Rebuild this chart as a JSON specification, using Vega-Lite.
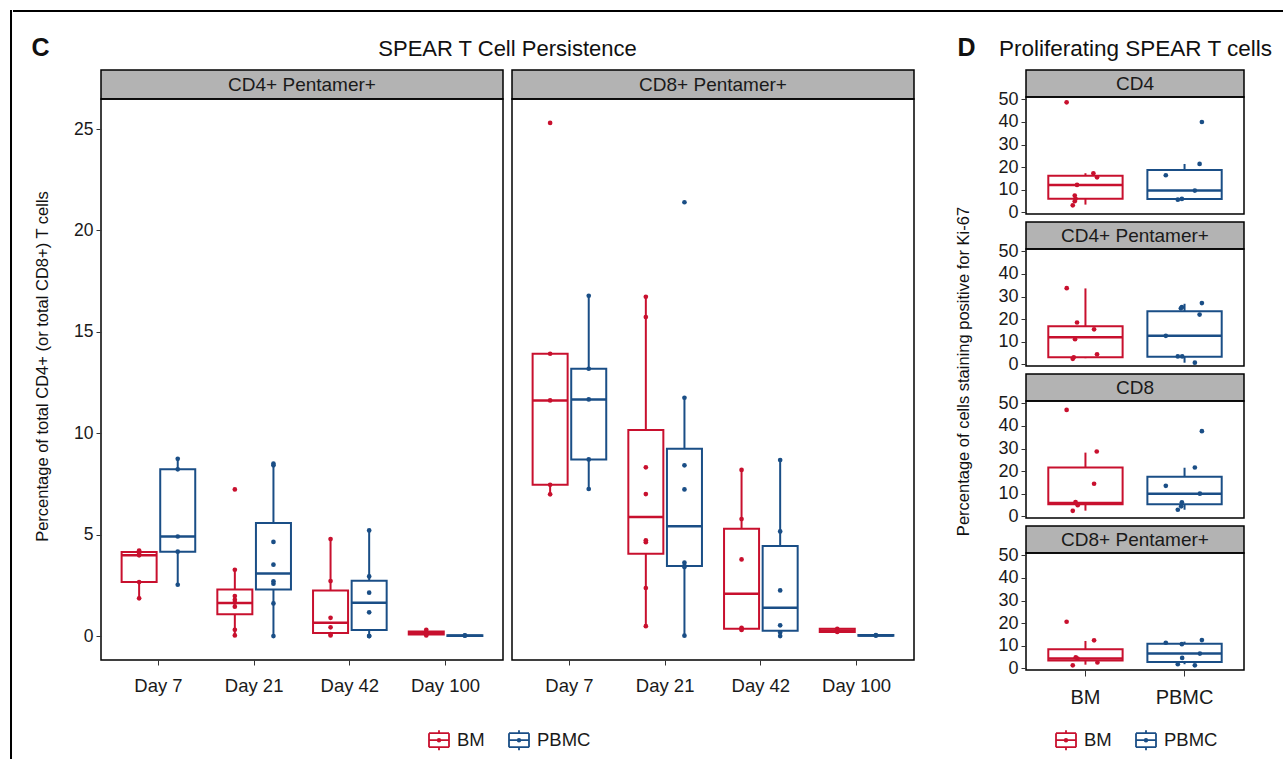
{
  "$schema": "https://vega.github.io/schema/vega-lite/v6.json",
  "background": "white",
  "padding": {"left": 10, "top": 10, "right": 0, "bottom": 0},
  "autosize": {"type": "pad"},
  "config": {
    "font": "Liberation Sans",
    "view": {"stroke": "black", "strokeWidth": 1.5},
    "axis": {"grid": false, "domain": false, "tickColor": "#333333", "tickWidth": 1, "tickSize": 5, "labelColor": "#1a1a1a", "titleColor": "#111111", "titleFontWeight": "normal", "labelFont": "Liberation Sans", "labelOverlap": false},
    "legend": {"padding": 0, "labelFontSize": 18.5, "labelColor": "#1a1a1a", "labelOffset": 7, "columnPadding": 20, "symbolSize": 400, "symbolStrokeWidth": 1.8, "symbolFillColor": "transparent", "symbolType": "M-1,-0.7H1M1,-0.7V0.7M1,0.7H-1M-1,0.7V-0.7M-1,0H1M0,-0.7V-1M0,0.7V1M0.13,0A0.13,0.13 0 1 1 -0.13,0A0.13,0.13 0 1 1 0.13,0"},
    "text": {"color": "#1a1a1a"}
  },
  "datasets": {
    "none": [],
    "boxC": [
      {"p":"CD4+ Pentamer+","d":"Day 7","g":"BM","lo":1.86,"q1":2.66,"med":3.98,"q3":4.14,"hi":4.2},
      {"p":"CD4+ Pentamer+","d":"Day 7","g":"PBMC","lo":2.53,"q1":4.16,"med":4.91,"q3":8.22,"hi":8.74},
      {"p":"CD4+ Pentamer+","d":"Day 21","g":"BM","lo":0.03,"q1":1.08,"med":1.63,"q3":2.30,"hi":3.27},
      {"p":"CD4+ Pentamer+","d":"Day 21","g":"PBMC","lo":0.0,"q1":2.30,"med":3.09,"q3":5.57,"hi":8.50},
      {"p":"CD4+ Pentamer+","d":"Day 42","g":"BM","lo":0.03,"q1":0.15,"med":0.66,"q3":2.25,"hi":4.78},
      {"p":"CD4+ Pentamer+","d":"Day 42","g":"PBMC","lo":0.0,"q1":0.30,"med":1.64,"q3":2.73,"hi":5.21},
      {"p":"CD4+ Pentamer+","d":"Day 100","g":"BM","lo":0.03,"q1":0.08,"med":0.14,"q3":0.22,"hi":0.31},
      {"p":"CD4+ Pentamer+","d":"Day 100","g":"PBMC","lo":0.0,"q1":0.0,"med":0.02,"q3":0.04,"hi":0.05},
      {"p":"CD8+ Pentamer+","d":"Day 7","g":"BM","lo":6.99,"q1":7.46,"med":11.62,"q3":13.92,"hi":13.92},
      {"p":"CD8+ Pentamer+","d":"Day 7","g":"PBMC","lo":7.25,"q1":8.71,"med":11.67,"q3":13.18,"hi":16.78},
      {"p":"CD8+ Pentamer+","d":"Day 21","g":"BM","lo":0.49,"q1":4.06,"med":5.87,"q3":10.16,"hi":16.73},
      {"p":"CD8+ Pentamer+","d":"Day 21","g":"PBMC","lo":0.02,"q1":3.45,"med":5.42,"q3":9.24,"hi":11.75},
      {"p":"CD8+ Pentamer+","d":"Day 42","g":"BM","lo":0.30,"q1":0.36,"med":2.09,"q3":5.29,"hi":8.19},
      {"p":"CD8+ Pentamer+","d":"Day 42","g":"PBMC","lo":0.0,"q1":0.26,"med":1.40,"q3":4.44,"hi":8.68},
      {"p":"CD8+ Pentamer+","d":"Day 100","g":"BM","lo":0.18,"q1":0.20,"med":0.28,"q3":0.36,"hi":0.38},
      {"p":"CD8+ Pentamer+","d":"Day 100","g":"PBMC","lo":0.0,"q1":0.01,"med":0.03,"q3":0.05,"hi":0.06}
    ],
    "ptC": [
      {"p":"CD4+ Pentamer+","d":"Day 7","g":"BM","v":4.22},{"p":"CD4+ Pentamer+","d":"Day 7","g":"BM","v":4.05},{"p":"CD4+ Pentamer+","d":"Day 7","g":"BM","v":3.98},{"p":"CD4+ Pentamer+","d":"Day 7","g":"BM","v":2.66},{"p":"CD4+ Pentamer+","d":"Day 7","g":"BM","v":1.86},
      {"p":"CD4+ Pentamer+","d":"Day 7","g":"PBMC","v":8.74},{"p":"CD4+ Pentamer+","d":"Day 7","g":"PBMC","v":8.22},{"p":"CD4+ Pentamer+","d":"Day 7","g":"PBMC","v":4.91},{"p":"CD4+ Pentamer+","d":"Day 7","g":"PBMC","v":4.16},{"p":"CD4+ Pentamer+","d":"Day 7","g":"PBMC","v":2.53},
      {"p":"CD4+ Pentamer+","d":"Day 21","g":"BM","v":7.23},{"p":"CD4+ Pentamer+","d":"Day 21","g":"BM","v":3.27},{"p":"CD4+ Pentamer+","d":"Day 21","g":"BM","v":1.97},{"p":"CD4+ Pentamer+","d":"Day 21","g":"BM","v":1.79},{"p":"CD4+ Pentamer+","d":"Day 21","g":"BM","v":1.65},{"p":"CD4+ Pentamer+","d":"Day 21","g":"BM","v":1.45},{"p":"CD4+ Pentamer+","d":"Day 21","g":"BM","v":0.31},{"p":"CD4+ Pentamer+","d":"Day 21","g":"BM","v":0.03},
      {"p":"CD4+ Pentamer+","d":"Day 21","g":"PBMC","v":8.50},{"p":"CD4+ Pentamer+","d":"Day 21","g":"PBMC","v":8.42},{"p":"CD4+ Pentamer+","d":"Day 21","g":"PBMC","v":4.64},{"p":"CD4+ Pentamer+","d":"Day 21","g":"PBMC","v":3.52},{"p":"CD4+ Pentamer+","d":"Day 21","g":"PBMC","v":2.70},{"p":"CD4+ Pentamer+","d":"Day 21","g":"PBMC","v":2.58},{"p":"CD4+ Pentamer+","d":"Day 21","g":"PBMC","v":1.61},{"p":"CD4+ Pentamer+","d":"Day 21","g":"PBMC","v":0.0},
      {"p":"CD4+ Pentamer+","d":"Day 42","g":"BM","v":4.78},{"p":"CD4+ Pentamer+","d":"Day 42","g":"BM","v":2.71},{"p":"CD4+ Pentamer+","d":"Day 42","g":"BM","v":0.90},{"p":"CD4+ Pentamer+","d":"Day 42","g":"BM","v":0.43},{"p":"CD4+ Pentamer+","d":"Day 42","g":"BM","v":0.10},{"p":"CD4+ Pentamer+","d":"Day 42","g":"BM","v":0.03},
      {"p":"CD4+ Pentamer+","d":"Day 42","g":"PBMC","v":5.21},{"p":"CD4+ Pentamer+","d":"Day 42","g":"PBMC","v":2.94},{"p":"CD4+ Pentamer+","d":"Day 42","g":"PBMC","v":2.14},{"p":"CD4+ Pentamer+","d":"Day 42","g":"PBMC","v":1.17},{"p":"CD4+ Pentamer+","d":"Day 42","g":"PBMC","v":0.0},{"p":"CD4+ Pentamer+","d":"Day 42","g":"PBMC","v":0.0},
      {"p":"CD4+ Pentamer+","d":"Day 100","g":"BM","v":0.31},{"p":"CD4+ Pentamer+","d":"Day 100","g":"BM","v":0.2},{"p":"CD4+ Pentamer+","d":"Day 100","g":"BM","v":0.1},{"p":"CD4+ Pentamer+","d":"Day 100","g":"BM","v":0.03},
      {"p":"CD4+ Pentamer+","d":"Day 100","g":"PBMC","v":0.02},{"p":"CD4+ Pentamer+","d":"Day 100","g":"PBMC","v":0.03},
      {"p":"CD8+ Pentamer+","d":"Day 7","g":"BM","v":25.3},{"p":"CD8+ Pentamer+","d":"Day 7","g":"BM","v":13.92},{"p":"CD8+ Pentamer+","d":"Day 7","g":"BM","v":11.62},{"p":"CD8+ Pentamer+","d":"Day 7","g":"BM","v":7.46},{"p":"CD8+ Pentamer+","d":"Day 7","g":"BM","v":6.99},
      {"p":"CD8+ Pentamer+","d":"Day 7","g":"PBMC","v":16.78},{"p":"CD8+ Pentamer+","d":"Day 7","g":"PBMC","v":13.18},{"p":"CD8+ Pentamer+","d":"Day 7","g":"PBMC","v":11.67},{"p":"CD8+ Pentamer+","d":"Day 7","g":"PBMC","v":8.71},{"p":"CD8+ Pentamer+","d":"Day 7","g":"PBMC","v":7.25},
      {"p":"CD8+ Pentamer+","d":"Day 21","g":"BM","v":16.73},{"p":"CD8+ Pentamer+","d":"Day 21","g":"BM","v":15.73},{"p":"CD8+ Pentamer+","d":"Day 21","g":"BM","v":8.32},{"p":"CD8+ Pentamer+","d":"Day 21","g":"BM","v":7.0},{"p":"CD8+ Pentamer+","d":"Day 21","g":"BM","v":4.72},{"p":"CD8+ Pentamer+","d":"Day 21","g":"BM","v":4.63},{"p":"CD8+ Pentamer+","d":"Day 21","g":"BM","v":2.37},{"p":"CD8+ Pentamer+","d":"Day 21","g":"BM","v":0.49},
      {"p":"CD8+ Pentamer+","d":"Day 21","g":"PBMC","v":21.39},{"p":"CD8+ Pentamer+","d":"Day 21","g":"PBMC","v":11.75},{"p":"CD8+ Pentamer+","d":"Day 21","g":"PBMC","v":8.42},{"p":"CD8+ Pentamer+","d":"Day 21","g":"PBMC","v":7.23},{"p":"CD8+ Pentamer+","d":"Day 21","g":"PBMC","v":3.62},{"p":"CD8+ Pentamer+","d":"Day 21","g":"PBMC","v":3.45},{"p":"CD8+ Pentamer+","d":"Day 21","g":"PBMC","v":3.40},{"p":"CD8+ Pentamer+","d":"Day 21","g":"PBMC","v":0.02},
      {"p":"CD8+ Pentamer+","d":"Day 42","g":"BM","v":8.19},{"p":"CD8+ Pentamer+","d":"Day 42","g":"BM","v":5.77},{"p":"CD8+ Pentamer+","d":"Day 42","g":"BM","v":3.78},{"p":"CD8+ Pentamer+","d":"Day 42","g":"BM","v":0.40},{"p":"CD8+ Pentamer+","d":"Day 42","g":"BM","v":0.35},{"p":"CD8+ Pentamer+","d":"Day 42","g":"BM","v":0.30},
      {"p":"CD8+ Pentamer+","d":"Day 42","g":"PBMC","v":8.68},{"p":"CD8+ Pentamer+","d":"Day 42","g":"PBMC","v":5.16},{"p":"CD8+ Pentamer+","d":"Day 42","g":"PBMC","v":2.25},{"p":"CD8+ Pentamer+","d":"Day 42","g":"PBMC","v":0.53},{"p":"CD8+ Pentamer+","d":"Day 42","g":"PBMC","v":0.18},{"p":"CD8+ Pentamer+","d":"Day 42","g":"PBMC","v":0.0},
      {"p":"CD8+ Pentamer+","d":"Day 100","g":"BM","v":0.36},{"p":"CD8+ Pentamer+","d":"Day 100","g":"BM","v":0.30},{"p":"CD8+ Pentamer+","d":"Day 100","g":"BM","v":0.20},
      {"p":"CD8+ Pentamer+","d":"Day 100","g":"PBMC","v":0.02},{"p":"CD8+ Pentamer+","d":"Day 100","g":"PBMC","v":0.05}
    ],
    "boxD": [
      {"p":"CD4","g":"BM","lo":3.4,"q1":6.0,"med":12.1,"q3":16.2,"hi":17.3},
      {"p":"CD4","g":"PBMC","lo":5.6,"q1":5.9,"med":9.6,"q3":18.7,"hi":21.4},
      {"p":"CD4+ Pentamer+","g":"BM","lo":2.7,"q1":3.1,"med":12.0,"q3":16.9,"hi":33.6},
      {"p":"CD4+ Pentamer+","g":"PBMC","lo":0.7,"q1":3.3,"med":12.6,"q3":23.5,"hi":26.8},
      {"p":"CD8","g":"BM","lo":2.5,"q1":5.3,"med":5.9,"q3":21.6,"hi":28.2},
      {"p":"CD8","g":"PBMC","lo":2.9,"q1":5.3,"med":10.0,"q3":17.5,"hi":21.5},
      {"p":"CD8+ Pentamer+","g":"BM","lo":1.6,"q1":3.4,"med":4.3,"q3":8.4,"hi":12.1},
      {"p":"CD8+ Pentamer+","g":"PBMC","lo":1.8,"q1":2.8,"med":6.5,"q3":10.9,"hi":11.8}
    ],
    "ptD": [
      {"p":"CD4","g":"BM","v":48.7,"j":-0.19},{"p":"CD4","g":"BM","v":17.3,"j":0.08},{"p":"CD4","g":"BM","v":15.5,"j":0.117},{"p":"CD4","g":"BM","v":12.1,"j":-0.085},{"p":"CD4","g":"BM","v":7.4,"j":-0.108},{"p":"CD4","g":"BM","v":6.0,"j":-0.10},{"p":"CD4","g":"BM","v":4.9,"j":-0.108},{"p":"CD4","g":"BM","v":3.1,"j":-0.128},
      {"p":"CD4","g":"PBMC","v":40.0,"j":0.175},{"p":"CD4","g":"PBMC","v":21.4,"j":0.152},{"p":"CD4","g":"PBMC","v":16.4,"j":-0.189},{"p":"CD4","g":"PBMC","v":9.6,"j":0.104},{"p":"CD4","g":"PBMC","v":5.6,"j":-0.068},{"p":"CD4","g":"PBMC","v":5.9,"j":-0.027},
      {"p":"CD4+ Pentamer+","g":"BM","v":33.7,"j":-0.189},{"p":"CD4+ Pentamer+","g":"BM","v":18.5,"j":-0.085},{"p":"CD4+ Pentamer+","g":"BM","v":15.5,"j":0.087},{"p":"CD4+ Pentamer+","g":"BM","v":11.1,"j":-0.105},{"p":"CD4+ Pentamer+","g":"BM","v":4.4,"j":0.117},{"p":"CD4+ Pentamer+","g":"BM","v":3.1,"j":-0.118},{"p":"CD4+ Pentamer+","g":"BM","v":2.4,"j":-0.128},
      {"p":"CD4+ Pentamer+","g":"PBMC","v":27.1,"j":0.175},{"p":"CD4+ Pentamer+","g":"PBMC","v":25.3,"j":-0.027},{"p":"CD4+ Pentamer+","g":"PBMC","v":24.8,"j":-0.037},{"p":"CD4+ Pentamer+","g":"PBMC","v":22.0,"j":0.152},{"p":"CD4+ Pentamer+","g":"PBMC","v":12.6,"j":-0.189},{"p":"CD4+ Pentamer+","g":"PBMC","v":3.5,"j":-0.068},{"p":"CD4+ Pentamer+","g":"PBMC","v":3.5,"j":-0.024},{"p":"CD4+ Pentamer+","g":"PBMC","v":0.7,"j":0.104},
      {"p":"CD8","g":"BM","v":47.1,"j":-0.19},{"p":"CD8","g":"BM","v":28.7,"j":0.114},{"p":"CD8","g":"BM","v":14.4,"j":0.087},{"p":"CD8","g":"BM","v":6.3,"j":-0.10},{"p":"CD8","g":"BM","v":4.9,"j":-0.078},{"p":"CD8","g":"BM","v":2.4,"j":-0.128},
      {"p":"CD8","g":"PBMC","v":37.7,"j":0.175},{"p":"CD8","g":"PBMC","v":21.6,"j":0.104},{"p":"CD8","g":"PBMC","v":13.5,"j":-0.189},{"p":"CD8","g":"PBMC","v":10.0,"j":0.155},{"p":"CD8","g":"PBMC","v":6.2,"j":-0.027},{"p":"CD8","g":"PBMC","v":4.4,"j":-0.034},{"p":"CD8","g":"PBMC","v":2.9,"j":-0.068},
      {"p":"CD8+ Pentamer+","g":"BM","v":20.6,"j":-0.19},{"p":"CD8+ Pentamer+","g":"BM","v":12.4,"j":0.087},{"p":"CD8+ Pentamer+","g":"BM","v":4.9,"j":-0.098},{"p":"CD8+ Pentamer+","g":"BM","v":4.3,"j":-0.08},{"p":"CD8+ Pentamer+","g":"BM","v":2.6,"j":0.121},{"p":"CD8+ Pentamer+","g":"BM","v":1.3,"j":-0.128},
      {"p":"CD8+ Pentamer+","g":"PBMC","v":12.5,"j":0.175},{"p":"CD8+ Pentamer+","g":"PBMC","v":11.3,"j":-0.189},{"p":"CD8+ Pentamer+","g":"PBMC","v":10.7,"j":-0.027},{"p":"CD8+ Pentamer+","g":"PBMC","v":6.5,"j":0.155},{"p":"CD8+ Pentamer+","g":"PBMC","v":4.6,"j":-0.024},{"p":"CD8+ Pentamer+","g":"PBMC","v":1.8,"j":-0.068},{"p":"CD8+ Pentamer+","g":"PBMC","v":1.3,"j":0.104}
    ]
  },
  "spacing": 0,
  "hconcat": [
    {"width": 0.01, "height": 747, "view": {"stroke": "black", "strokeWidth": 2}, "data": {"name": "none"}, "mark": "point", "encoding": {}},
    {
      "spacing": 21,
      "vconcat": [
        {"width": 1268, "height": 0.01, "view": {"stroke": "black", "strokeWidth": 2}, "data": {"name": "none"}, "mark": "point", "encoding": {}},
        {
          "spacing": 15,
          "hconcat": [
            {"width": 0.01, "height": 0.01, "view": {"stroke": "transparent", "strokeWidth": 0.1}, "data": {"name": "none"}, "mark": "point", "encoding": {}},
            {
              "resolve": {"legend": {"color": "independent"}},
              "spacing": 39,
              "hconcat": [
                {
                  "columns": 2,
                  "bounds": "flush",
                  "spacing": {"row": 0, "column": 9},
                  "resolve": {"scale": {"xOffset": "independent"}},
                  "concat": [
                    {
                      "width": 402, "height": 29,
                      "data": {"values": [{"panel": "CD4+ Pentamer+"}]},
                      "view": {"fill": "#b3b3b3", "stroke": "black", "strokeWidth": 1.5},
                      "mark": {"type": "text", "fontSize": 19},
                      "encoding": {
                        "text": {"field": "panel"},
                        "x": {"field": "panel", "type": "nominal", "axis": {"orient": "top", "labels": false, "ticks": false, "domain": false, "title": "SPEAR T Cell Persistence", "titleFontSize": 22, "titleX": 406, "titleY": -15, "titleAlign": "center", "titleBaseline": "alphabetic", "titleAngle": 0}},
                        "y": {"field": "panel", "type": "nominal", "axis": {"labels": false, "ticks": false, "domain": false, "title": "C", "titleFontSize": 25, "titleFontWeight": "bold", "titleX": -70, "titleY": -15, "titleAlign": "left", "titleBaseline": "alphabetic", "titleAngle": 0}}
                      }
                    },
                    {
                      "width": 402, "height": 29,
                      "data": {"values": [{"panel": "CD8+ Pentamer+"}]},
                      "view": {"fill": "#b3b3b3", "stroke": "black", "strokeWidth": 1.5},
                      "mark": {"type": "text", "fontSize": 19},
                      "encoding": {"text": {"field": "panel"}}
                    },
                    {
                      "width": 402, "height": 561,
                      "encoding": {
                        "x": {"field": "d", "type": "nominal", "sort": ["Day 7", "Day 21", "Day 42", "Day 100"], "scale": {"paddingInner": 0, "paddingOuter": 0.1}, "axis": {"title": null, "labelAngle": 0, "labelFontSize": 18.5, "labelPadding": 11}},
                        "xOffset": {"field": "g", "type": "nominal", "sort": ["BM", "PBMC"], "scale": {"paddingInner": 0.093, "paddingOuter": 0.286}},
                        "color": {"field": "g", "type": "nominal", "scale": {"domain": ["BM", "PBMC"], "range": ["#C8102E", "#1A4E86"]}, "legend": null}
                      },
                      "layer": [
                        {"data": {"name": "boxC"}, "transform": [{"filter": "datum.p === 'CD4+ Pentamer+'"}], "mark": {"type": "bar", "filled": false, "strokeWidth": 2}, "encoding": {"color": {"field": "g", "type": "nominal", "scale": {"domain": ["BM", "PBMC"], "range": ["#C8102E", "#1A4E86"]}, "legend": {"title": null, "orient": "none", "legendX": 327, "legendY": 659, "direction": "horizontal", "symbolFillColor": "transparent"}}, "y": {"field": "q1", "type": "quantitative", "scale": {"domain": [-1.18, 26.48], "nice": false, "zero": false}, "axis": {"values": [0, 5, 10, 15, 20, 25], "labelFontSize": 17.5, "labelPadding": 3, "title": "Percentage of total CD4+ (or total CD8+) T cells", "titleFontSize": 16.5, "titleX": -54, "titleY": 267, "titleAngle": -90, "titleAlign": "center", "titleBaseline": "alphabetic"}}, "y2": {"field": "q3"}}},
                        {"data": {"name": "boxC"}, "transform": [{"filter": "datum.p === 'CD4+ Pentamer+'"}], "mark": {"type": "rule", "strokeWidth": 2}, "encoding": {"y": {"field": "lo", "type": "quantitative", "title": "Percentage of total CD4+ (or total CD8+) T cells"}, "y2": {"field": "q1"}}},
                        {"data": {"name": "boxC"}, "transform": [{"filter": "datum.p === 'CD4+ Pentamer+'"}], "mark": {"type": "rule", "strokeWidth": 2}, "encoding": {"y": {"field": "q3", "type": "quantitative", "title": "Percentage of total CD4+ (or total CD8+) T cells"}, "y2": {"field": "hi"}}},
                        {"data": {"name": "boxC"}, "transform": [{"filter": "datum.p === 'CD4+ Pentamer+'"}], "mark": {"type": "tick", "orient": "horizontal", "thickness": 2.5, "size": 35, "opacity": 1}, "encoding": {"y": {"field": "med", "type": "quantitative", "title": "Percentage of total CD4+ (or total CD8+) T cells"}}},
                        {"data": {"name": "ptC"}, "transform": [{"filter": "datum.p === 'CD4+ Pentamer+'"}], "mark": {"type": "circle", "size": 22, "opacity": 1}, "encoding": {"y": {"field": "v", "type": "quantitative", "title": "Percentage of total CD4+ (or total CD8+) T cells"}}}
                      ]
                    },
                    {
                      "width": 402, "height": 561,
                      "encoding": {
                        "x": {"field": "d", "type": "nominal", "sort": ["Day 7", "Day 21", "Day 42", "Day 100"], "scale": {"paddingInner": 0, "paddingOuter": 0.1}, "axis": {"title": null, "labelAngle": 0, "labelFontSize": 18.5, "labelPadding": 11}},
                        "xOffset": {"field": "g", "type": "nominal", "sort": ["BM", "PBMC"], "scale": {"paddingInner": 0.093, "paddingOuter": 0.286}},
                        "color": {"field": "g", "type": "nominal", "scale": {"domain": ["BM", "PBMC"], "range": ["#C8102E", "#1A4E86"]}, "legend": null}
                      },
                      "layer": [
                        {"data": {"name": "boxC"}, "transform": [{"filter": "datum.p === 'CD8+ Pentamer+'"}], "mark": {"type": "bar", "filled": false, "strokeWidth": 2}, "encoding": {"color": {"field": "g", "type": "nominal", "scale": {"domain": ["BM", "PBMC"], "range": ["#C8102E", "#1A4E86"]}, "legend": {"title": null, "orient": "none", "legendX": 327, "legendY": 659, "direction": "horizontal", "symbolFillColor": "transparent"}}, "y": {"field": "q1", "type": "quantitative", "scale": {"domain": [-1.18, 26.48], "nice": false, "zero": false}, "axis": null}, "y2": {"field": "q3"}}},
                        {"data": {"name": "boxC"}, "transform": [{"filter": "datum.p === 'CD8+ Pentamer+'"}], "mark": {"type": "rule", "strokeWidth": 2}, "encoding": {"y": {"field": "lo", "type": "quantitative", "axis": null}, "y2": {"field": "q1"}}},
                        {"data": {"name": "boxC"}, "transform": [{"filter": "datum.p === 'CD8+ Pentamer+'"}], "mark": {"type": "rule", "strokeWidth": 2}, "encoding": {"y": {"field": "q3", "type": "quantitative", "axis": null}, "y2": {"field": "hi"}}},
                        {"data": {"name": "boxC"}, "transform": [{"filter": "datum.p === 'CD8+ Pentamer+'"}], "mark": {"type": "tick", "orient": "horizontal", "thickness": 2.5, "size": 35, "opacity": 1}, "encoding": {"y": {"field": "med", "type": "quantitative", "axis": null}}},
                        {"data": {"name": "ptC"}, "transform": [{"filter": "datum.p === 'CD8+ Pentamer+'"}], "mark": {"type": "circle", "size": 22, "opacity": 1}, "encoding": {"y": {"field": "v", "type": "quantitative", "axis": null}}}
                      ]
                    }
                  ]
                },
                {
                  "bounds": "flush",
                  "spacing": 0,
                  "resolve": {"scale": {"xOffset": "independent", "x": "independent", "y": "independent"}},
                  "vconcat": [
                    {
                      "width": 218, "height": 27,
                      "data": {"values": [{"panel": "CD4"}]},
                      "view": {"fill": "#b3b3b3", "stroke": "black", "strokeWidth": 1.5},
                      "mark": {"type": "text", "fontSize": 19},
                      "encoding": {
                        "text": {"field": "panel"},
                        "x": {"field": "panel", "type": "nominal", "axis": {"orient": "top", "labels": false, "ticks": false, "domain": false, "title": "Proliferating SPEAR T cells", "titleFontSize": 22.5, "titleX": 109, "titleY": -15, "titleAlign": "center", "titleBaseline": "alphabetic", "titleAngle": 0}},
                        "y": {"field": "panel", "type": "nominal", "axis": {"labels": false, "ticks": false, "domain": false, "title": "D", "titleFontSize": 25, "titleFontWeight": "bold", "titleX": -69, "titleY": -15, "titleAlign": "left", "titleBaseline": "alphabetic", "titleAngle": 0}}
                      }
                    },
                    {
                      "width": 218, "height": 117,
                      "resolve": {"scale": {"xOffset": "independent"}},
                      "encoding": {
                        "x": {"field": "g", "type": "nominal", "sort": ["BM", "PBMC"], "scale": {"paddingInner": 0, "paddingOuter": 0.1}, "axis": null},
                        "color": {"field": "g", "type": "nominal", "scale": {"domain": ["BM", "PBMC"], "range": ["#C8102E", "#1A4E86"]}, "legend": null}
                      },
                      "layer": [
                        {"data": {"name": "boxD"}, "transform": [{"filter": "datum.p === 'CD4'"}], "mark": {"type": "bar", "filled": false, "strokeWidth": 2, "width": {"band": 0.75}}, "encoding": {"color": {"field": "g", "type": "nominal", "scale": {"domain": ["BM", "PBMC"], "range": ["#C8102E", "#1A4E86"]}, "legend": {"title": null, "orient": "none", "legendX": 29, "legendY": 659, "direction": "horizontal", "symbolFillColor": "transparent"}}, "y": {"field": "q1", "type": "quantitative", "scale": {"domain": [-0.76, 51.06], "nice": false, "zero": false}, "axis": {"values": [0, 10, 20, 30, 40, 50], "labelFontSize": 18, "labelPadding": 3, "labelOverlap": false, "title": null}}, "y2": {"field": "q3"}}},
                        {"data": {"name": "boxD"}, "transform": [{"filter": "datum.p === 'CD4'"}], "mark": {"type": "rule", "strokeWidth": 2}, "encoding": {"y": {"field": "lo", "type": "quantitative", "axis": {"values": [0, 10, 20, 30, 40, 50], "labelFontSize": 18, "labelPadding": 3, "labelOverlap": false, "title": null}}, "y2": {"field": "q1"}}},
                        {"data": {"name": "boxD"}, "transform": [{"filter": "datum.p === 'CD4'"}], "mark": {"type": "rule", "strokeWidth": 2}, "encoding": {"y": {"field": "q3", "type": "quantitative", "axis": {"values": [0, 10, 20, 30, 40, 50], "labelFontSize": 18, "labelPadding": 3, "labelOverlap": false, "title": null}}, "y2": {"field": "hi"}}},
                        {"data": {"name": "boxD"}, "transform": [{"filter": "datum.p === 'CD4'"}], "mark": {"type": "tick", "orient": "horizontal", "thickness": 2.5, "size": 74, "opacity": 1}, "encoding": {"y": {"field": "med", "type": "quantitative", "axis": {"values": [0, 10, 20, 30, 40, 50], "labelFontSize": 18, "labelPadding": 3, "labelOverlap": false, "title": null}}}},
                        {"data": {"name": "ptD"}, "transform": [{"filter": "datum.p === 'CD4'"}], "mark": {"type": "circle", "size": 22, "opacity": 1}, "encoding": {"y": {"field": "v", "type": "quantitative", "axis": {"values": [0, 10, 20, 30, 40, 50], "labelFontSize": 18, "labelPadding": 3, "labelOverlap": false, "title": null}}, "xOffset": {"field": "j", "type": "quantitative", "scale": {"domain": [-0.5, 0.5]}}}}
                      ]
                    },
                    {"width": 218, "height": 8, "view": {"stroke": null}, "data": {"name": "none"}, "mark": "point", "encoding": {}},
                    {
                      "width": 218, "height": 27,
                      "data": {"values": [{"panel": "CD4+ Pentamer+"}]},
                      "view": {"fill": "#b3b3b3", "stroke": "black", "strokeWidth": 1.5},
                      "mark": {"type": "text", "fontSize": 19},
                      "encoding": {"text": {"field": "panel"}}
                    },
                    {
                      "width": 218, "height": 117,
                      "resolve": {"scale": {"xOffset": "independent"}},
                      "encoding": {
                        "x": {"field": "g", "type": "nominal", "sort": ["BM", "PBMC"], "scale": {"paddingInner": 0, "paddingOuter": 0.1}, "axis": null},
                        "color": {"field": "g", "type": "nominal", "scale": {"domain": ["BM", "PBMC"], "range": ["#C8102E", "#1A4E86"]}, "legend": null}
                      },
                      "layer": [
                        {"data": {"name": "boxD"}, "transform": [{"filter": "datum.p === 'CD4+ Pentamer+'"}], "mark": {"type": "bar", "filled": false, "strokeWidth": 2, "width": {"band": 0.75}}, "encoding": {"color": {"field": "g", "type": "nominal", "scale": {"domain": ["BM", "PBMC"], "range": ["#C8102E", "#1A4E86"]}, "legend": {"title": null, "orient": "none", "legendX": 29, "legendY": 659, "direction": "horizontal", "symbolFillColor": "transparent"}}, "y": {"field": "q1", "type": "quantitative", "scale": {"domain": [-0.76, 51.06], "nice": false, "zero": false}, "axis": {"values": [0, 10, 20, 30, 40, 50], "labelFontSize": 18, "labelPadding": 3, "labelOverlap": false, "title": "Percentage of cells staining positive for Ki-67", "titleFontSize": 16.5, "titleX": -58, "titleY": 122, "titleAngle": -90, "titleAlign": "center", "titleBaseline": "alphabetic"}}, "y2": {"field": "q3"}}},
                        {"data": {"name": "boxD"}, "transform": [{"filter": "datum.p === 'CD4+ Pentamer+'"}], "mark": {"type": "rule", "strokeWidth": 2}, "encoding": {"y": {"field": "lo", "type": "quantitative", "axis": {"values": [0, 10, 20, 30, 40, 50], "labelFontSize": 18, "labelPadding": 3, "labelOverlap": false, "title": "Percentage of cells staining positive for Ki-67", "titleFontSize": 16.5, "titleX": -58, "titleY": 122, "titleAngle": -90, "titleAlign": "center", "titleBaseline": "alphabetic"}}, "y2": {"field": "q1"}}},
                        {"data": {"name": "boxD"}, "transform": [{"filter": "datum.p === 'CD4+ Pentamer+'"}], "mark": {"type": "rule", "strokeWidth": 2}, "encoding": {"y": {"field": "q3", "type": "quantitative", "axis": {"values": [0, 10, 20, 30, 40, 50], "labelFontSize": 18, "labelPadding": 3, "labelOverlap": false, "title": "Percentage of cells staining positive for Ki-67", "titleFontSize": 16.5, "titleX": -58, "titleY": 122, "titleAngle": -90, "titleAlign": "center", "titleBaseline": "alphabetic"}}, "y2": {"field": "hi"}}},
                        {"data": {"name": "boxD"}, "transform": [{"filter": "datum.p === 'CD4+ Pentamer+'"}], "mark": {"type": "tick", "orient": "horizontal", "thickness": 2.5, "size": 74, "opacity": 1}, "encoding": {"y": {"field": "med", "type": "quantitative", "axis": {"values": [0, 10, 20, 30, 40, 50], "labelFontSize": 18, "labelPadding": 3, "labelOverlap": false, "title": "Percentage of cells staining positive for Ki-67", "titleFontSize": 16.5, "titleX": -58, "titleY": 122, "titleAngle": -90, "titleAlign": "center", "titleBaseline": "alphabetic"}}}},
                        {"data": {"name": "ptD"}, "transform": [{"filter": "datum.p === 'CD4+ Pentamer+'"}], "mark": {"type": "circle", "size": 22, "opacity": 1}, "encoding": {"y": {"field": "v", "type": "quantitative", "axis": {"values": [0, 10, 20, 30, 40, 50], "labelFontSize": 18, "labelPadding": 3, "labelOverlap": false, "title": "Percentage of cells staining positive for Ki-67", "titleFontSize": 16.5, "titleX": -58, "titleY": 122, "titleAngle": -90, "titleAlign": "center", "titleBaseline": "alphabetic"}}, "xOffset": {"field": "j", "type": "quantitative", "scale": {"domain": [-0.5, 0.5]}}}}
                      ]
                    },
                    {"width": 218, "height": 8, "view": {"stroke": null}, "data": {"name": "none"}, "mark": "point", "encoding": {}},
                    {
                      "width": 218, "height": 27,
                      "data": {"values": [{"panel": "CD8"}]},
                      "view": {"fill": "#b3b3b3", "stroke": "black", "strokeWidth": 1.5},
                      "mark": {"type": "text", "fontSize": 19},
                      "encoding": {"text": {"field": "panel"}}
                    },
                    {
                      "width": 218, "height": 117,
                      "resolve": {"scale": {"xOffset": "independent"}},
                      "encoding": {
                        "x": {"field": "g", "type": "nominal", "sort": ["BM", "PBMC"], "scale": {"paddingInner": 0, "paddingOuter": 0.1}, "axis": null},
                        "color": {"field": "g", "type": "nominal", "scale": {"domain": ["BM", "PBMC"], "range": ["#C8102E", "#1A4E86"]}, "legend": null}
                      },
                      "layer": [
                        {"data": {"name": "boxD"}, "transform": [{"filter": "datum.p === 'CD8'"}], "mark": {"type": "bar", "filled": false, "strokeWidth": 2, "width": {"band": 0.75}}, "encoding": {"color": {"field": "g", "type": "nominal", "scale": {"domain": ["BM", "PBMC"], "range": ["#C8102E", "#1A4E86"]}, "legend": {"title": null, "orient": "none", "legendX": 29, "legendY": 659, "direction": "horizontal", "symbolFillColor": "transparent"}}, "y": {"field": "q1", "type": "quantitative", "scale": {"domain": [-0.76, 51.06], "nice": false, "zero": false}, "axis": {"values": [0, 10, 20, 30, 40, 50], "labelFontSize": 18, "labelPadding": 3, "labelOverlap": false, "title": null}}, "y2": {"field": "q3"}}},
                        {"data": {"name": "boxD"}, "transform": [{"filter": "datum.p === 'CD8'"}], "mark": {"type": "rule", "strokeWidth": 2}, "encoding": {"y": {"field": "lo", "type": "quantitative", "axis": {"values": [0, 10, 20, 30, 40, 50], "labelFontSize": 18, "labelPadding": 3, "labelOverlap": false, "title": null}}, "y2": {"field": "q1"}}},
                        {"data": {"name": "boxD"}, "transform": [{"filter": "datum.p === 'CD8'"}], "mark": {"type": "rule", "strokeWidth": 2}, "encoding": {"y": {"field": "q3", "type": "quantitative", "axis": {"values": [0, 10, 20, 30, 40, 50], "labelFontSize": 18, "labelPadding": 3, "labelOverlap": false, "title": null}}, "y2": {"field": "hi"}}},
                        {"data": {"name": "boxD"}, "transform": [{"filter": "datum.p === 'CD8'"}], "mark": {"type": "tick", "orient": "horizontal", "thickness": 2.5, "size": 74, "opacity": 1}, "encoding": {"y": {"field": "med", "type": "quantitative", "axis": {"values": [0, 10, 20, 30, 40, 50], "labelFontSize": 18, "labelPadding": 3, "labelOverlap": false, "title": null}}}},
                        {"data": {"name": "ptD"}, "transform": [{"filter": "datum.p === 'CD8'"}], "mark": {"type": "circle", "size": 22, "opacity": 1}, "encoding": {"y": {"field": "v", "type": "quantitative", "axis": {"values": [0, 10, 20, 30, 40, 50], "labelFontSize": 18, "labelPadding": 3, "labelOverlap": false, "title": null}}, "xOffset": {"field": "j", "type": "quantitative", "scale": {"domain": [-0.5, 0.5]}}}}
                      ]
                    },
                    {"width": 218, "height": 8, "view": {"stroke": null}, "data": {"name": "none"}, "mark": "point", "encoding": {}},
                    {
                      "width": 218, "height": 27,
                      "data": {"values": [{"panel": "CD8+ Pentamer+"}]},
                      "view": {"fill": "#b3b3b3", "stroke": "black", "strokeWidth": 1.5},
                      "mark": {"type": "text", "fontSize": 19},
                      "encoding": {"text": {"field": "panel"}}
                    },
                    {
                      "width": 218, "height": 117,
                      "resolve": {"scale": {"xOffset": "independent"}},
                      "encoding": {
                        "x": {"field": "g", "type": "nominal", "sort": ["BM", "PBMC"], "scale": {"paddingInner": 0, "paddingOuter": 0.1}, "axis": {"title": null, "labelAngle": 0, "labelFontSize": 20, "labelPadding": 11, "tickSize": 6}},
                        "color": {"field": "g", "type": "nominal", "scale": {"domain": ["BM", "PBMC"], "range": ["#C8102E", "#1A4E86"]}, "legend": null}
                      },
                      "layer": [
                        {"data": {"name": "boxD"}, "transform": [{"filter": "datum.p === 'CD8+ Pentamer+'"}], "mark": {"type": "bar", "filled": false, "strokeWidth": 2, "width": {"band": 0.75}}, "encoding": {"color": {"field": "g", "type": "nominal", "scale": {"domain": ["BM", "PBMC"], "range": ["#C8102E", "#1A4E86"]}, "legend": {"title": null, "orient": "none", "legendX": 29, "legendY": 659, "direction": "horizontal", "symbolFillColor": "transparent"}}, "y": {"field": "q1", "type": "quantitative", "scale": {"domain": [-0.76, 51.06], "nice": false, "zero": false}, "axis": {"values": [0, 10, 20, 30, 40, 50], "labelFontSize": 18, "labelPadding": 3, "labelOverlap": false, "title": null}}, "y2": {"field": "q3"}}},
                        {"data": {"name": "boxD"}, "transform": [{"filter": "datum.p === 'CD8+ Pentamer+'"}], "mark": {"type": "rule", "strokeWidth": 2}, "encoding": {"y": {"field": "lo", "type": "quantitative", "axis": {"values": [0, 10, 20, 30, 40, 50], "labelFontSize": 18, "labelPadding": 3, "labelOverlap": false, "title": null}}, "y2": {"field": "q1"}}},
                        {"data": {"name": "boxD"}, "transform": [{"filter": "datum.p === 'CD8+ Pentamer+'"}], "mark": {"type": "rule", "strokeWidth": 2}, "encoding": {"y": {"field": "q3", "type": "quantitative", "axis": {"values": [0, 10, 20, 30, 40, 50], "labelFontSize": 18, "labelPadding": 3, "labelOverlap": false, "title": null}}, "y2": {"field": "hi"}}},
                        {"data": {"name": "boxD"}, "transform": [{"filter": "datum.p === 'CD8+ Pentamer+'"}], "mark": {"type": "tick", "orient": "horizontal", "thickness": 2.5, "size": 74, "opacity": 1}, "encoding": {"y": {"field": "med", "type": "quantitative", "axis": {"values": [0, 10, 20, 30, 40, 50], "labelFontSize": 18, "labelPadding": 3, "labelOverlap": false, "title": null}}}},
                        {"data": {"name": "ptD"}, "transform": [{"filter": "datum.p === 'CD8+ Pentamer+'"}], "mark": {"type": "circle", "size": 22, "opacity": 1}, "encoding": {"y": {"field": "v", "type": "quantitative", "axis": {"values": [0, 10, 20, 30, 40, 50], "labelFontSize": 18, "labelPadding": 3, "labelOverlap": false, "title": null}}, "xOffset": {"field": "j", "type": "quantitative", "scale": {"domain": [-0.5, 0.5]}}}}
                      ]
                    }
                  ]
                }
              ]
            }
          ]
        }
      ]
    }
  ]
}
